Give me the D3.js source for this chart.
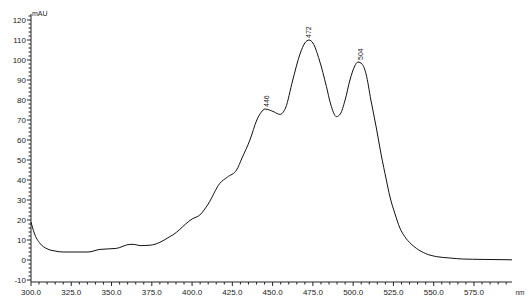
<!DOCTYPE html>
<html lang="en">
<head>
    <meta charset="UTF-8">
    <title>Spectrum</title>
    <script src="https://cdn.jsdelivr.net/npm/d3@7"></script>
    <style>
        body { margin: 0; background: #fff; }
        svg text { font-family: "Liberation Sans", Arial, sans-serif; fill: #222; }
    </style>
</head>
<body>
    <svg width="529" height="306"></svg>
    <script>
        // wavelength (nm) and absorbance (mAU)
        const wavelength = [300, 302, 305.6, 310, 314.9, 320, 335.4, 342.8, 353, 361.4, 364, 367.6, 374, 380, 386.2, 388, 392.4,
            396, 400, 404.8, 410, 417.2, 422, 427.6, 431, 435.9, 440.2, 443, 445.2, 448, 451, 454.5, 458, 462.5, 467, 470,
            472.6, 475, 479, 483.4, 486, 489.6, 492, 495, 498, 501, 503, 505.5, 508, 511, 514.4, 517.3, 520.6, 522.7, 525.8,
            529, 532, 536, 539.3, 545, 551.7, 560, 568, 580, 598.6];
        const absorbance = [19, 13.5, 8.3, 5.6, 4.5, 4, 4, 5.3, 5.8, 7.8, 7.8, 7.2, 7.4, 8.8, 11.7, 12.5, 15.3,
            18, 20.5, 22.5, 28, 38.3, 41.5, 45, 51, 60, 70, 74, 75.5, 75, 74, 72.8, 76, 90, 103, 108.5,
            110, 108.5, 100, 86.7, 78, 71.7, 73, 80, 90, 97, 99, 98, 93, 80, 66, 53, 40, 32, 23.5,
            16, 11.7, 8, 5.8, 3.2, 1.7, 1, 0.5, 0.3, 0.1];
        const peakNm = [446, 472, 504];
        const peakVal = [75.5, 110, 99];

        const xTicks = d3.range(300, 576, 25);
        const yTicks = d3.range(-10, 121, 10);

        const svg = d3.select("svg");
        const x = d3.scaleLinear().domain([300, 598.6]).range([31, 512]);
        const y = d3.scaleLinear().domain([-11, 120]).range([282, 20]);

        // x axis
        const gx = svg.append("g").attr("transform", "translate(0,282)");
        gx.append("line").attr("x1", 31).attr("x2", 512).attr("stroke", "#222");
        gx.selectAll(".minor").data(d3.range(300, 598, 5)).enter().append("line")
            .attr("x1", d => x(d)).attr("x2", d => x(d))
            .attr("y1", 0).attr("y2", d => d % 25 === 0 ? 4 : 2.5)
            .attr("stroke", "#222");
        gx.selectAll(".lbl").data(xTicks).enter().append("text")
            .attr("x", d => x(d)).attr("y", 13)
            .attr("text-anchor", "middle").attr("font-size", 8)
            .text(d => d3.format(".1f")(d));
        gx.append("text").attr("x", 520).attr("y", 13).attr("text-anchor", "middle")
            .attr("font-size", 6.5).text("nm");

        // y axis
        const gy = svg.append("g").attr("transform", "translate(31,0)");
        gy.append("line").attr("y1", 14).attr("y2", 282).attr("stroke", "#222");
        gy.selectAll(".minor").data(d3.range(-10, 123, 2)).enter().append("line")
            .attr("y1", d => y(d)).attr("y2", d => y(d))
            .attr("x1", 0).attr("x2", d => d % 10 === 0 ? -4 : -2.5)
            .attr("stroke", "#222");
        gy.selectAll(".lbl").data(yTicks).enter().append("text")
            .attr("x", -5).attr("y", d => y(d) + 3)
            .attr("text-anchor", "end").attr("font-size", 8)
            .text(d => d);
        gy.append("text").attr("x", 1).attr("y", 16).attr("font-size", 7).text("mAU");

        // trace
        const line = d3.line()
            .x((d, i) => x(wavelength[i]))
            .y((d, i) => y(absorbance[i]))
            .curve(d3.curveMonotoneX);
        svg.append("path").datum(absorbance)
            .attr("d", line)
            .attr("fill", "none").attr("stroke", "#111").attr("stroke-width", 1);

        // peak labels
        svg.selectAll(".peak").data(peakNm).enter().append("text")
            .attr("transform", (d, i) => `translate(${x(d) + 3},${y(peakVal[i]) - 2}) rotate(-90)`)
            .attr("font-size", 7).text(d => d);
    </script>
</body>
</html>
